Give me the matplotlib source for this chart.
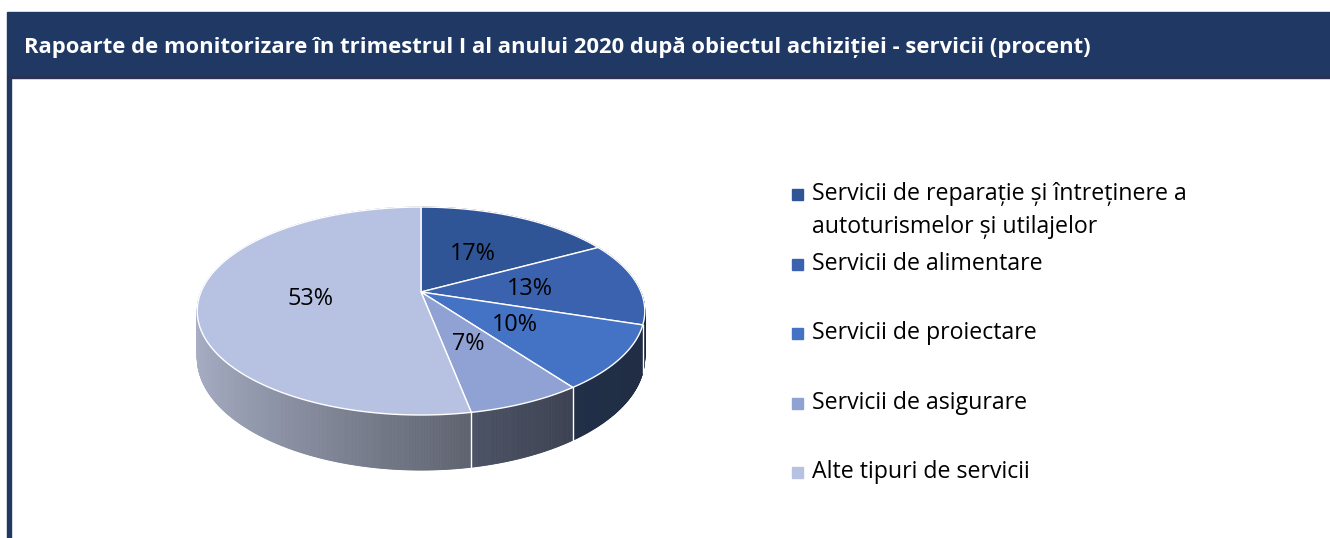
import numpy as np
import matplotlib
matplotlib.use("Agg")
import matplotlib.pyplot as plt
from matplotlib.patches import Rectangle, Polygon

plt.rcParams['font.family'] = ['Open Sans', 'DejaVu Sans']

# ------------------------------------------------------------
# Date
# ------------------------------------------------------------
titlu = ("Rapoarte de monitorizare în trimestrul I al anului 2020 "
         "după obiectul achiziției - servicii (procent)")
categorii = ["Servicii de reparație și întreținere a\nautoturismelor și utilajelor",
             "Servicii de alimentare",
             "Servicii de proiectare",
             "Servicii de asigurare",
             "Alte tipuri de servicii"]
procente = [17, 13, 10, 7, 53]
culori = ["#2F5597", "#3A62AE", "#4472C4", "#8FA2D3", "#B7C2E3"]

# ------------------------------------------------------------
# Geometrie (pixeli)
# ------------------------------------------------------------
W, H = 1330, 538
cx, cy = 421, 292          # centrul plăcintei
rx, ry = 220, 100.5        # semiaxe
k = 0.183                  # perspectivă
h = 45                     # grosime laterală
navy = "#203864"

fig = plt.figure(figsize=(W / 100, H / 100), dpi=100)
ax = fig.add_axes([0, 0, 1, 1])
ax.set_xlim(0, W)
ax.set_ylim(H, 0)
ax.axis('off')

# antet + bordura stanga
ax.add_patch(Rectangle((7, 12), W - 7, 64, color=navy, zorder=1))
ax.add_patch(Rectangle((7, 76), W - 7, 2, color="#2B3152", zorder=1))
ax.add_patch(Rectangle((7, 78), 4, H - 78, color=navy, zorder=1))
ax.text(24, 47, titlu, color="white", fontsize=15.8, fontweight='bold',
        va='center', ha='left', zorder=2)


def proj(t, r=1.0, dz=0.0):
    u = r * np.cos(t)
    v = r * np.sin(t)
    s = 1.0 / (1.0 + k * v)
    return cx + rx * u * s, cy - ry * v * s + dz * s


def umbra(rgb, u):
    f = np.interp(u, [-1, 0.19, 0.59, 1], [0.9, 0.5, 0.4, 0.38])
    base = np.array(rgb)
    gri = base.mean()
    return np.clip(f * (0.75 * base + 0.25 * gri), 0, 1)


# unghiuri (în sensul acelor de ceas, de la ora 12)
frac = np.array(procente) / np.sum(procente)
lim = np.concatenate([[0], np.cumsum(frac)]) * 2 * np.pi
t_lim = np.pi / 2 - lim

# laterale: benzi subtiri, din spate spre fata
benzi = []
for i, c in enumerate(culori):
    rgb = matplotlib.colors.to_rgb(c)
    ts = np.linspace(t_lim[i], t_lim[i + 1], max(int(abs(t_lim[i + 1] - t_lim[i]) * 180), 2))
    for a, b in zip(ts[:-1], ts[1:]):
        m = 0.5 * (a + b)
        benzi.append((np.sin(m), a, b, umbra(rgb, np.cos(m))))
benzi.sort(key=lambda x: -x[0])
for _, a, b, col in benzi:
    xa, ya = proj(a)
    xb, yb = proj(b)
    xa2, ya2 = proj(a, dz=h)
    xb2, yb2 = proj(b, dz=h)
    ax.add_patch(Polygon([(xa, ya), (xb, yb), (xb2, yb2), (xa2, ya2)],
                         closed=True, facecolor=col, edgecolor=col, lw=0.6, zorder=3))

# linii albe intre laterale
for t in t_lim:
    if np.sin(t) < -0.05:
        x1, y1 = proj(t)
        x2, y2 = proj(t, dz=h)
        ax.plot([x1, x2], [y1, y2], color="white", lw=1, zorder=4)

# fata de sus
for i, c in enumerate(culori):
    ts = np.linspace(t_lim[i], t_lim[i + 1], 200)
    xs, ys = proj(ts)
    pts = [(cx, cy)] + list(zip(xs, ys))
    ax.add_patch(Polygon(pts, closed=True, facecolor=c, edgecolor="white",
                         lw=1, zorder=5))

# etichete procente
for i, p in enumerate(procente):
    tm = 0.5 * (t_lim[i] + t_lim[i + 1])
    x, y = proj(tm, r=0.5)
    ax.text(x, y + 2, f"{p}%", fontsize=16.8, ha='center', va='center',
            color="black", zorder=6)

# legenda
ly = [194, 264, 333, 403, 472]
for i, (lab, c) in enumerate(zip(categorii, culori)):
    ax.add_patch(Rectangle((792, ly[i] - 5.5), 11, 11, color=c, zorder=5))
    for j, linie in enumerate(lab.split("\n")):
        ax.text(812, ly[i] + 33 * j, linie, fontsize=16.7, ha='left', va='center',
                color="black", zorder=6)

fig.savefig("out.png", dpi=100)
